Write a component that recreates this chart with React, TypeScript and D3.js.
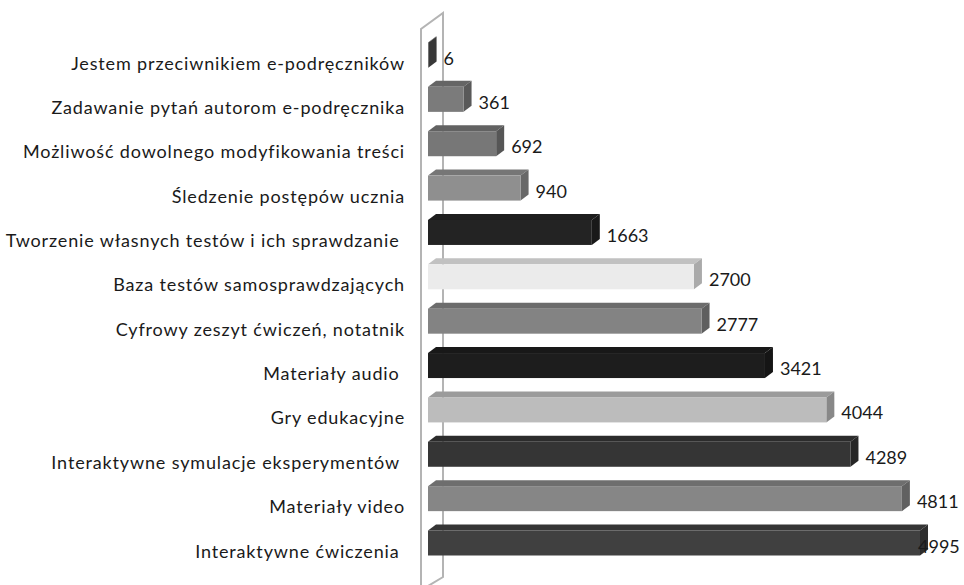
import React from "react";
import * as d3 from "d3";

// data (top to bottom)
const categories = [
  "Jestem przeciwnikiem e-podręczników",
  "Zadawanie pytań autorom e-podręcznika",
  "Możliwość dowolnego modyfikowania treści",
  "Śledzenie postępów ucznia",
  "Tworzenie własnych testów i ich sprawdzanie ",
  "Baza testów samosprawdzających",
  "Cyfrowy zeszyt ćwiczeń, notatnik",
  "Materiały audio ",
  "Gry edukacyjne",
  "Interaktywne symulacje eksperymentów ",
  "Materiały video",
  "Interaktywne ćwiczenia ",
];
const values = [6, 361, 692, 940, 1663, 2700, 2777, 3421, 4044, 4289, 4811, 4995];
const barColors = [
  "#4d4d4d", "#7b7b7b", "#777777", "#8f8f8f", "#232323", "#ebebeb",
  "#838383", "#1d1d1d", "#bcbcbc", "#353535", "#868686", "#404040",
];

const W = 964;
const H = 585;
const depthX = 8;
const depthY = 6;
const barH = 25;
const font = "Lato, 'Open Sans', sans-serif";

export default function App() {
  const x = d3.scaleLinear().domain([0, 5000]).range([428, 920.5]);
  const y = d3.scalePoint<string>().domain(categories).range([55, 543]);

  // side wall of the 3D plot area
  const wall = d3.path();
  wall.moveTo(421, H + 10);
  wall.lineTo(421, 29);
  wall.lineTo(443, 13);
  wall.lineTo(443, 577);
  wall.lineTo(428, 586);

  return (
    <svg
      width={W}
      height={H}
      style={{ position: "absolute", left: 0, top: 0, background: "#fff" }}
    >
      <path d={wall.toString()} fill="none" stroke="#b4b4b4" strokeWidth={2} />
      {categories.map((c, i) => {
        const cy = y(c) as number;
        const y0 = cy - barH / 2;
        const x0 = x(0);
        const x1 = x(values[i]);
        const col = d3.color(barColors[i])!;
        const topCol = d3.rgb(col).darker(0.55).toString();
        const sideCol = d3.rgb(col).darker(0.9).toString();
        const top = d3.path();
        top.moveTo(x0, y0);
        top.lineTo(x0 + depthX, y0 - depthY);
        top.lineTo(x1 + depthX, y0 - depthY);
        top.lineTo(x1, y0);
        top.closePath();
        const side = d3.path();
        side.moveTo(x1, y0);
        side.lineTo(x1 + depthX, y0 - depthY);
        side.lineTo(x1 + depthX, y0 + barH - depthY);
        side.lineTo(x1, y0 + barH);
        side.closePath();
        const labelX = Math.min(x1 + depthX + 7, 918);
        return (
          <g key={c}>
            <path d={top.toString()} fill={topCol} />
            <path d={side.toString()} fill={sideCol} />
            <rect x={x0} y={y0} width={x1 - x0} height={barH} fill={col.toString()} />
            <text
              x={405}
              y={cy + 10}
              textAnchor="end"
              dominantBaseline="middle"
              fontFamily={font}
              fontSize={18}
              letterSpacing={0.85}
              fill="#1a1a1a"
              style={{ whiteSpace: "pre" }}
            >
              {c}
            </text>
            <text
              x={labelX}
              y={cy + 5}
              dominantBaseline="middle"
              fontFamily={font}
              fontSize={18}
              fill="#1a1a1a"
            >
              {values[i]}
            </text>
          </g>
        );
      })}
    </svg>
  );
}
